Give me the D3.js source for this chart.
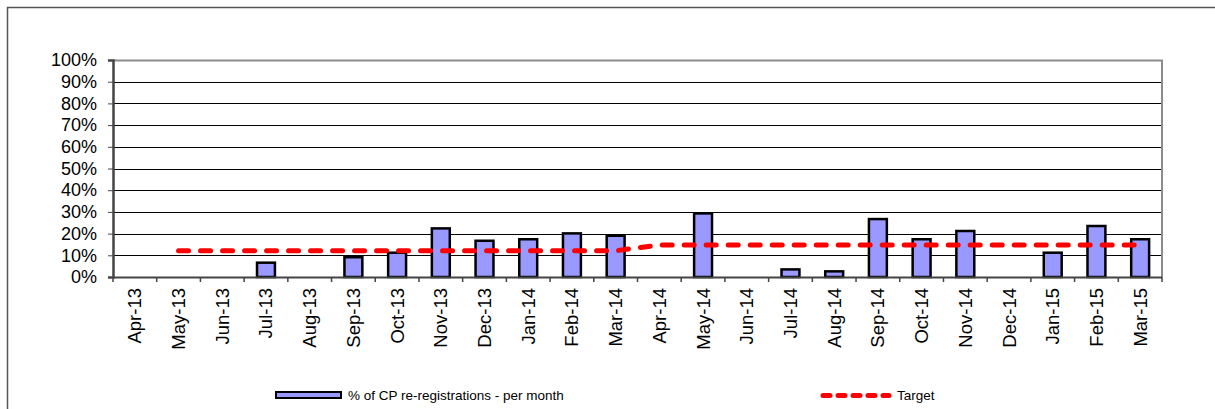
<!DOCTYPE html>
<html>
<head>
<meta charset="utf-8">
<script src="https://cdn.jsdelivr.net/npm/d3@7"></script>
<style>
  body { margin: 0; background: #fff; }
  svg { display: block; font-family: Arial, "Liberation Sans", sans-serif; }
</style>
</head>
<body>
<svg id="chart"></svg>
<script>
var months = ["Apr-13", "May-13", "Jun-13", "Jul-13", "Aug-13", "Sep-13", "Oct-13", "Nov-13",
  "Dec-13", "Jan-14", "Feb-14", "Mar-14", "Apr-14", "May-14", "Jun-14", "Jul-14", "Aug-14",
  "Sep-14", "Oct-14", "Nov-14", "Dec-14", "Jan-15", "Feb-15", "Mar-15"];

var reRegistrations = [0, 0, 0, 6.6, 0, 9.1, 11.2, 22.4, 16.7, 17.4, 20.1, 19.0,
  0, 29.3, 0, 3.5, 2.6, 26.7, 17.4, 21.2, 0, 11.2, 23.5, 17.4];

var target = [null, 12.1, 12.1, 12.1, 12.1, 12.1, 12.1, 12.1, 12.1, 12.1, 12.1, 12.1,
  14.7, 14.7, 14.7, 14.7, 14.7, 14.7, 14.7, 14.7, 14.7, 14.7, 14.7, 14.7];

var yTicks = [0, 10, 20, 30, 40, 50, 60, 70, 80, 90, 100];

var width = 1215,
  height = 409;

var margin = {
    top: 60,
    right: 53,
    bottom: 132,
    left: 113
  },
  plotW = width - margin.left - margin.right,
  plotH = height - margin.top - margin.bottom;

var svg = d3.select("#chart")
  .attr("width", width)
  .attr("height", height);

// outer chart border (runs off the right and bottom edges)
svg.append("rect")
  .attr("x", 7.5)
  .attr("y", 7.5)
  .attr("width", 1240)
  .attr("height", 440)
  .style("fill", "none")
  .style("stroke", "#555")
  .style("stroke-width", 1.5);

var canvas = svg.append("g")
  .attr("transform", "translate(" + margin.left + "," + margin.top + ")");

var xScale = d3.scaleBand()
  .domain(months)
  .range([0, plotW]);

var yScale = d3.scaleLinear()
  .domain([0, 100])
  .range([plotH, 0]);

// gridlines
canvas.selectAll(".grid")
  .data(yTicks.filter(function(d) { return d > 0 && d < 100; }))
  .enter().append("line")
  .attr("class", "grid")
  .attr("x1", 0)
  .attr("x2", plotW)
  .attr("y1", function(d) { return Math.round(yScale(d)) + 0.5; })
  .attr("y2", function(d) { return Math.round(yScale(d)) + 0.5; })
  .style("stroke", "#000")
  .style("stroke-width", 1);

// plot frame top and right (grey)
canvas.append("path")
  .attr("d", "M0," + 0.5 + "H" + plotW + "V" + plotH)
  .style("fill", "none")
  .style("stroke", "#8c8c8c")
  .style("stroke-width", 2);

// bars
var barW = xScale.bandwidth() * 0.41;

canvas.selectAll(".bar")
  .data(reRegistrations.map(function(v, i) { return { month: months[i], value: v }; })
    .filter(function(d) { return d.value > 0; }))
  .enter().append("rect")
  .attr("class", "bar")
  .attr("x", function(d) { return xScale(d.month) + (xScale.bandwidth() - barW) / 2; })
  .attr("y", function(d) { return yScale(d.value); })
  .attr("width", barW)
  .attr("height", function(d) { return plotH - yScale(d.value); })
  .style("fill", "#9999ff")
  .style("stroke", "#000")
  .style("stroke-width", 2.5);

// target line
var targetLine = d3.line()
  .defined(function(d) { return d.value !== null; })
  .x(function(d) { return xScale(d.month) + xScale.bandwidth() / 2; })
  .y(function(d) { return yScale(d.value); });

canvas.append("path")
  .datum(target.map(function(v, i) { return { month: months[i], value: v }; }))
  .attr("d", targetLine)
  .style("fill", "none")
  .style("stroke", "#ff0000")
  .style("stroke-width", 5)
  .style("stroke-linecap", "round")
  .style("stroke-dasharray", "10,12");

// axes
var yAxis = d3.axisLeft(yScale)
  .tickValues(yTicks)
  .tickSize(5)
  .tickPadding(11)
  .tickFormat(function(d) { return d + "%"; });

var gy = canvas.append("g")
  .attr("class", "y axis")
  .call(yAxis);
gy.select(".domain").style("stroke", "#444").style("stroke-width", 2.5);
gy.selectAll(".tick line").style("stroke", "#444");
gy.selectAll("text")
  .style("font-size", "18px")
  .style("fill", "#000");

var gx = canvas.append("g")
  .attr("class", "x axis")
  .attr("transform", "translate(0," + plotH + ")");

gx.append("line")
  .attr("x1", 0)
  .attr("x2", plotW)
  .attr("y1", 0.5)
  .attr("y2", 0.5)
  .style("stroke", "#444")
  .style("stroke-width", 2);

gx.selectAll(".xtick")
  .data(d3.range(months.length + 1))
  .enter().append("line")
  .attr("class", "xtick")
  .attr("x1", function(i) { return i * xScale.step(); })
  .attr("x2", function(i) { return i * xScale.step(); })
  .attr("y1", 0)
  .attr("y2", 5)
  .style("stroke", "#444")
  .style("stroke-width", 1.5);

gx.selectAll(".xlabel")
  .data(months)
  .enter().append("text")
  .attr("class", "xlabel")
  .attr("transform", function(d) {
    return "translate(" + (xScale(d) + xScale.bandwidth() / 2) + ",11) rotate(-90)";
  })
  .attr("dy", "0.35em")
  .style("text-anchor", "end")
  .style("font-size", "18.5px")
  .style("fill", "#000")
  .text(function(d) { return d; });

// legend
var legend = svg.append("g").attr("class", "legend");

legend.append("rect")
  .attr("x", 276)
  .attr("y", 392)
  .attr("width", 65)
  .attr("height", 6)
  .style("fill", "#9999ff")
  .style("stroke", "#000")
  .style("stroke-width", 2);

legend.append("text")
  .attr("x", 348)
  .attr("y", 395)
  .attr("dy", "0.35em")
  .style("font-size", "13.5px")
  .style("fill", "#000")
  .text("% of CP re-registrations - per month");

legend.append("line")
  .attr("x1", 823)
  .attr("x2", 889)
  .attr("y1", 395.5)
  .attr("y2", 395.5)
  .style("stroke", "#ff0000")
  .style("stroke-width", 5)
  .style("stroke-linecap", "round")
  .style("stroke-dasharray", "7,8");

legend.append("text")
  .attr("x", 897)
  .attr("y", 395)
  .attr("dy", "0.35em")
  .style("font-size", "13.5px")
  .style("fill", "#000")
  .text("Target");
</script>
</body>
</html>
